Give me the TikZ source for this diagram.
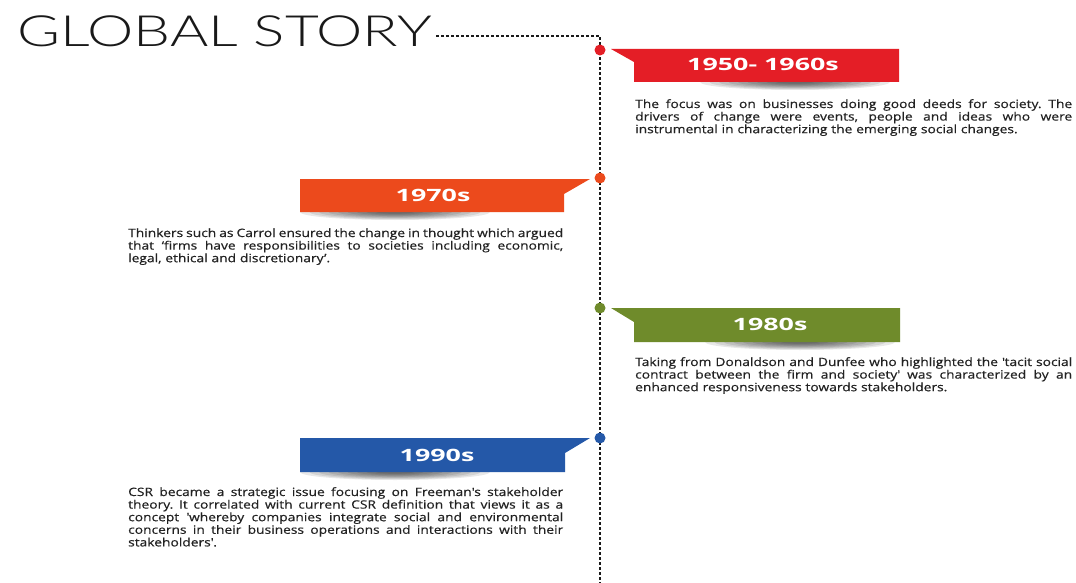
\documentclass[tikz,border=0pt]{standalone}
\usepackage{fontspec}
\setmainfont{Open Sans}[FakeStretch=1.2,FakeBold=0.5]
\newfontfamily\titlefont{Lato Light}[FakeStretch=1.36]
\newfontfamily\bannerfont{Open Sans}[FakeStretch=1.58]
\definecolor{era50}{HTML}{E41E26}
\definecolor{era70}{HTML}{EC4A1C}
\definecolor{era80}{HTML}{6F8B2B}
\definecolor{era90}{HTML}{2458A8}
\definecolor{bodygray}{HTML}{222222}
% one justified line of a fixed width: every interword space stretches alike
\newcommand\jline[2]{\makebox[#1][s]{\spaceskip=\fontdimen2\font plus 1fil minus 0.5\fontdimen2\font
  \xspaceskip=\spaceskip #2}}
% soft shadow under a banner, built from stacked translucent ellipses
\newcommand\bannershadow[3]{%
  \foreach \f in {1.0,0.9,0.8,0.7,0.6,0.5,0.4,0.3,0.2}{%
    \fill[black,opacity=0.09] (#1,#2) ellipse [x radius=\f*#3 pt, y radius=\f*8pt];}}
\tikzset{
  timeline/.style={line width=1.2pt,black!90,dash pattern=on 3pt off 2pt},
  era dot/.style={circle,inner sep=0pt,minimum size=11pt,fill=#1},
  era title/.style={text=white,font=\bannerfont\bfseries\fontsize{17}{17}\selectfont,inner sep=0pt,anchor=base},
  era text/.style={text=bodygray,font=\fontsize{11.5}{12.6}\selectfont,inner sep=0pt,anchor=base west,align=left}
}
\frenchspacing
\begin{document}
\begin{tikzpicture}[x=1pt,y=-1pt]
\useasboundingbox (0,0) rectangle (1076,583);
\fill[white] (0,0) rectangle (1076,583);

% heading
\node[inner sep=0pt,anchor=base west,font=\titlefont\fontsize{43}{43}\selectfont,text=black!90] (title) at (17,47) {GLOBAL STORY};

% time line
\coordinate (corner) at (600,36);
\coordinate (bottom) at (600,583);
\draw[timeline] ([xshift=4pt]title.east |- corner) -- (corner) -- (bottom);

% shadows
\bannershadow{795}{82}{95}
\bannershadow{395}{212}{95}
\bannershadow{800}{342}{95}
\bannershadow{395}{472}{95}

% banners
\fill[era50] (611,49) -- (899,49) -- (899,82) -- (634,82) -- (634,62) -- cycle;
\fill[era70] (590,179) -- (300,179) -- (300,212) -- (564,212) -- (564,194) -- cycle;
\fill[era80] (611,308) -- (900,308) -- (900,342) -- (634,342) -- (634,322) -- cycle;
\fill[era90] (590,438) -- (300,438) -- (300,472) -- (565,472) -- (565,453) -- cycle;

% dots on the time line
\node[era dot=era50] (d50) at (600,50) {};
\node[era dot=era70] (d70) at (600,178) {};
\node[era dot=era80] (d80) at (600,308) {};
\node[era dot=era90] (d90) at (600,438) {};

% banner titles
\node[era title] (t50) at (763,71) {1950- 1960s};
\node[era title] (t70) at (433,201.5) {1970s};
\node[era title] (t80) at (770,330.5) {1980s};
\node[era title] (t90) at (437,461.5) {1990s};

% descriptions
\node[era text,text width=437pt] (p50) at (635,108) {%
\jline{437pt}{The focus was on businesses doing good deeds for society. The}\\
\jline{437pt}{drivers of change were events, people and ideas who were}\\
instrumental in characterizing the emerging social changes.};

\node[era text,text width=435pt] (p70) at (128,237) {%
\jline{435pt}{Thinkers such as Carrol ensured the change in thought which argued}\\
\jline{435pt}{that ‘firms have responsibilities to societies including economic,}\\
legal, ethical and discretionary’.};

\node[era text,text width=437pt] (p80) at (635,366) {%
\jline{437pt}{Taking from Donaldson and Dunfee who highlighted the \textquotesingle tacit social}\\
\jline{437pt}{contract between the firm and society\textquotesingle{} was characterized by an}\\
enhanced responsiveness towards stakeholders.};

\node[era text,text width=435pt] (p90) at (128,496) {%
\jline{435pt}{CSR became a strategic issue focusing on Freeman\textquotesingle s stakeholder}\\
\jline{435pt}{theory. It correlated with current CSR definition that views it as a}\\
\jline{435pt}{concept \textquotesingle whereby companies integrate social and environmental}\\
\jline{435pt}{concerns in their business operations and interactions with their}\\
stakeholders\textquotesingle.};
\end{tikzpicture}
\end{document}
